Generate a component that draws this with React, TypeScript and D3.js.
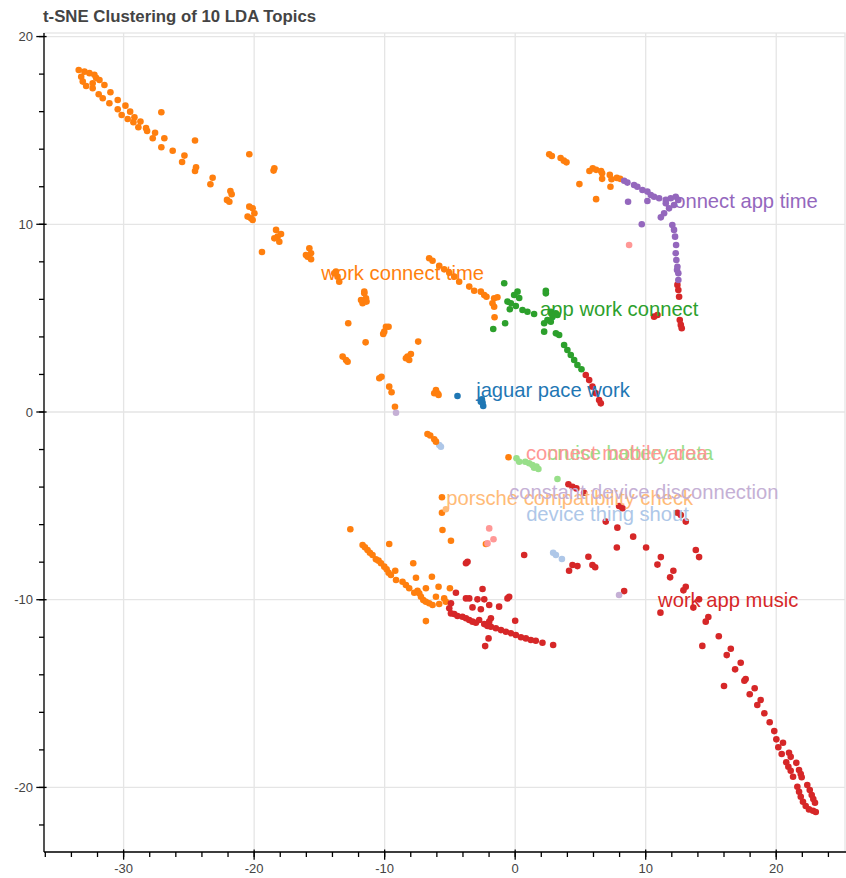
import React from "react";
import * as d3 from "d3";

const W = 846;
const H = 878;

const TITLE = "t-SNE Clustering of 10 LDA Topics";

const topicNames = [
  "jaguar pace work",
  "device thing shout",
  "work connect time",
  "porsche compatibility check",
  "app work connect",
  "cruise battery data",
  "work app music",
  "connect mobile area",
  "connect app time",
  "constant device disconnection",
];

const topicColors = [
  "#1f77b4", "#aec7e8", "#ff7f0e", "#ffbb78", "#2ca02c",
  "#98df8a", "#d62728", "#ff9896", "#9467bd", "#c5b0d5",
];

// label anchor positions (data units)
const labelX = [-2.99, 0.84, -14.85, -5.28, 1.91, 2.45, 10.95, 0.82, 11.41, -0.46];
const labelY = [0.8, -5.81, 7.03, -4.96, 5.11, -2.56, -10.39, -2.56, 10.87, -4.64];

const xTicks = [-30, -20, -10, 0, 10, 20];
const yTicks = [-20, -10, 0, 10, 20];
const xDomain = [-36.1, 25.27];
const yDomain = [-23.44, 20.19];

// topic 0 — blue
const t0: [number, number][] = [
  [-4.42, 0.85], [-2.55, 0.68], [-2.5, 0.5], [-2.45, 0.32], [-2.63, 0.55],
];
// topic 1 — light blue
const t1: [number, number][] = [
  [-5.82, -1.76], [-5.69, -1.85], [2.91, -7.5], [3.12, -7.62], [3.58, -7.83],
];
// topic 2 — orange
const t2: [number, number][] = [
  [-33.44, 18.22], [-33.0, 18.13], [-32.62, 18.05], [-32.24, 17.96], [-32.11, 17.8],
  [-32.37, 17.51], [-33.25, 17.86], [-33.13, 17.6], [-32.87, 17.37], [-32.37, 17.25],
  [-31.85, 17.69], [-31.47, 17.42], [-31.01, 17.03], [-31.91, 16.93], [-31.6, 16.71],
  [-31.09, 16.45], [-30.45, 16.62], [-29.86, 16.32], [-30.45, 16.13], [-30.15, 15.82],
  [-29.5, 16.0], [-29.17, 15.7], [-29.69, 15.61], [-29.25, 15.44], [-28.71, 15.47],
  [-28.87, 15.17], [-28.28, 15.12], [-28.2, 14.97], [-27.59, 14.88], [-27.77, 14.58],
  [-26.88, 14.58], [-27.11, 14.1], [-26.24, 13.92], [-27.11, 15.97], [-25.34, 13.66],
  [-25.52, 13.32], [-24.53, 14.46], [-24.45, 13.04], [-24.53, 12.84], [-23.18, 12.48],
  [-23.35, 12.13], [-21.82, 11.77], [-21.72, 11.6], [-22.08, 11.3], [-21.9, 11.2],
  [-20.37, 13.73], [-18.45, 12.98], [-18.51, 12.86], [-20.37, 10.94], [-20.11, 10.85],
  [-19.98, 10.59], [-20.24, 10.32], [-20.5, 10.41], [-20.11, 10.23], [-19.4, 8.52],
  [-18.32, 9.7], [-18.2, 9.34], [-18.45, 9.25], [-18.07, 9.07], [-17.94, 9.48],
  [-15.77, 8.72], [-15.64, 8.46], [-15.9, 8.27], [-15.64, 8.14], [-16.03, 8.36],
  [-13.73, 7.48], [-13.61, 7.21], [-13.48, 6.94], [-13.86, 7.39],
  [-11.56, 6.32], [-11.43, 6.06], [-11.69, 5.79], [-11.81, 5.97], [-11.39, 5.88], [-11.56, 6.41],
  [-12.79, 4.73], [-11.46, 3.71], [-9.9, 4.54], [-10.03, 4.28], [-10.11, 4.16], [-9.7, 4.54],
  [-7.43, 3.75], [-8.25, 2.95], [-8.12, 2.77], [-8.37, 2.86], [-7.99, 3.09],
  [-13.22, 2.95], [-12.96, 2.77], [-12.84, 2.68], [-10.41, 1.8], [-10.24, 1.88],
  [-9.65, 1.35], [-9.47, 1.05], [-9.21, 0.28],
  [-6.07, 1.17], [-5.95, 1.0], [-6.2, 1.0], [-5.87, 0.91],
  [-6.72, -1.17], [-6.51, -1.25], [-6.2, -1.45], [-6.07, -1.58],
  [-6.59, 8.19], [-6.33, 8.06], [-5.82, 7.79], [-5.44, 7.6], [-5.05, 7.42], [-4.67, 7.21],
  [-4.29, 6.94], [-3.52, 6.68], [-3.14, 6.46], [-2.63, 6.41], [-2.37, 6.23], [-2.2, 6.14],
  [-1.61, 6.06], [-1.36, 6.11], [-1.74, 5.79], [-1.61, 5.61], [-1.58, 5.05],
  [2.61, 13.73], [2.81, 13.64], [3.48, 13.53], [3.73, 13.39], [3.93, 13.3],
  [5.94, 12.98], [5.69, 12.84], [6.2, 12.9], [6.58, 12.84], [6.66, 12.72], [6.66, 12.42],
  [7.25, 12.63], [7.38, 12.4], [7.3, 12.0], [7.79, 12.47], [8.04, 12.42],
  [4.92, 12.14], [6.2, 11.34],
  [-0.51, -2.41],
  [-5.61, -4.54], [-5.61, -5.37], [-5.57, -6.29], [-4.92, -6.86], [-2.24, -7.03],
  [-12.63, -6.25], [-9.65, -7.03],
  [-11.69, -7.09], [-11.51, -7.21], [-11.31, -7.35], [-11.13, -7.5], [-10.93, -7.62],
  [-10.67, -7.85], [-10.47, -7.92], [-10.28, -8.06], [-10.03, -8.24], [-9.85, -8.38],
  [-9.7, -8.56], [-9.52, -8.68], [-9.19, -8.46], [-9.13, -8.95], [-8.63, -9.04],
  [-8.37, -9.22], [-8.12, -9.39], [-7.81, -8.06], [-7.6, -8.83], [-7.48, -9.52],
  [-7.73, -9.63], [-7.35, -9.66], [-7.22, -9.84], [-7.04, -10.02], [-6.84, -10.11],
  [-6.59, -10.19], [-6.33, -10.28], [-6.07, -9.84], [-5.82, -10.23], [-5.44, -9.93],
  [-5.31, -10.11], [-6.38, -8.78], [-5.87, -9.31], [-5.0, -9.39], [-6.84, -11.14], [-6.84, -9.39],
];
// topic 3 — light orange
const t3: [number, number][] = [[-5.31, -5.18]];
// topic 4 — green
const t4: [number, number][] = [
  [-0.84, 6.86], [0.18, 6.41], [-0.08, 6.23], [-0.59, 5.88], [-0.33, 5.79], [-0.41, 5.47],
  [0.05, 5.65], [0.56, 5.43], [0.94, 5.34], [1.45, 5.22], [-1.68, 4.42], [-0.77, 4.73],
  [0.31, 6.07], [2.35, 6.46], [2.35, 6.32], [2.73, 5.34], [3.12, 5.26], [3.24, 5.17],
  [2.86, 5.08], [2.47, 4.9], [2.22, 4.73], [2.73, 4.81], [2.22, 4.28], [3.12, 4.19],
  [3.37, 4.1], [3.75, 3.57], [4.0, 3.3], [4.26, 3.04], [4.52, 2.77], [4.77, 2.5], [5.08, 2.28],
];
// topic 5 — light green
const t5: [number, number][] = [
  [0.1, -2.47], [0.31, -2.65], [0.77, -2.65], [1.07, -2.73], [1.32, -2.82],
  [1.63, -2.91], [1.78, -3.04], [1.45, -2.97], [3.24, -3.57],
];
// topic 6 — red
const t6: [number, number][] = [
  [12.43, 6.77], [12.5, 6.5], [12.56, 6.14], [12.61, 4.9], [12.69, 4.64], [12.76, 4.46],
  [10.64, 5.08], [10.9, 5.17],
  [5.41, 1.97], [5.67, 1.7], [5.92, 1.35], [6.18, 1.0], [6.43, 0.64], [6.56, 0.46],
  [4.08, -3.85], [4.39, -3.98], [4.69, -4.07], [5.28, -4.3], [7.96, -5.01], [8.22, -5.13],
  [12.43, -5.37], [12.69, -5.49], [13.07, -5.84], [6.94, -5.84], [7.83, -6.16], [9.04, -6.64],
  [7.79, -7.22], [10.03, -7.22], [11.16, -7.73], [10.9, -8.13], [13.84, -7.35], [14.09, -7.73],
  [12.12, -8.46], [11.87, -8.81], [13.07, -9.31], [12.89, -9.5], [14.09, -9.98], [13.65, -10.42],
  [11.13, -10.69], [14.8, -10.92], [14.6, -11.17], [15.6, -11.95], [14.34, -12.46],
  [16.52, -12.61], [16.21, -12.95], [17.28, -13.36], [16.85, -13.71], [16.0, -14.6],
  [17.66, -14.23], [17.56, -14.32], [18.35, -14.72], [17.97, -15.04], [18.81, -15.34],
  [18.55, -15.61], [19.09, -16.05], [19.5, -16.53], [19.85, -17.0], [20.01, -17.44],
  [20.52, -17.62], [20.16, -17.86], [20.42, -18.22], [20.98, -18.15], [21.11, -18.37],
  [20.77, -18.66], [20.93, -18.9], [21.11, -19.11], [21.54, -18.69], [21.75, -19.07],
  [21.88, -19.29], [21.95, -19.46], [21.29, -19.43], [21.62, -19.96], [21.75, -20.23],
  [21.88, -20.5], [22.05, -20.76], [22.26, -20.99], [22.51, -21.17], [22.82, -21.24],
  [23.03, -21.31], [22.38, -19.87], [22.57, -20.14], [22.72, -20.41], [22.84, -20.62], [22.97, -20.82],
  [0.69, -7.62], [4.39, -8.15], [4.77, -8.21], [4.13, -8.46], [5.61, -7.71], [5.92, -8.15],
  [6.13, -8.27], [8.35, -9.54], [-3.77, -8.06], [-3.65, -7.98],
  [-4.54, -9.63], [-4.92, -10.19], [-5.05, -10.46], [-4.92, -10.73], [-4.67, -10.76],
  [-4.42, -10.87], [-4.04, -10.91], [-3.77, -10.99], [-3.52, -11.08], [-3.27, -11.17],
  [-3.01, -11.23], [-2.76, -11.08], [-2.37, -11.3], [-2.12, -11.4], [-1.86, -11.44],
  [-1.48, -11.52], [-1.09, -11.62], [-0.71, -11.71], [-0.33, -11.79], [0.05, -11.88],
  [0.44, -12.0], [0.82, -12.06], [1.2, -12.15], [1.58, -12.19], [2.09, -12.29], [2.91, -12.41],
  [-3.77, -9.93], [-3.52, -9.93], [-2.89, -9.98], [-2.37, -9.98], [-3.27, -10.41],
  [-2.63, -10.51], [-1.99, -10.28], [-1.23, -10.37], [-0.59, -9.93], [-0.46, -9.84],
  [-1.86, -10.99], [-1.99, -11.17], [0.0, -11.12], [-2.04, -12.06], [-2.3, -12.47], [-2.5, -9.43],
];
// topic 7 — light red
const t7: [number, number][] = [
  [8.73, 8.9], [-1.99, -6.2], [-1.66, -6.78], [-2.12, -7.0],
];
// topic 8 — purple
const t8: [number, number][] = [
  [8.35, 12.32], [8.6, 12.22], [9.11, 12.09], [9.36, 12.0], [9.75, 11.83], [10.13, 11.74],
  [10.39, 11.56], [10.64, 11.47], [11.03, 11.39], [11.54, 11.3], [11.92, 11.39], [12.3, 11.47],
  [12.5, 11.3], [12.17, 11.03], [11.79, 10.85], [11.41, 10.59], [11.16, 10.37], [11.54, 11.12],
  [8.65, 11.2], [10.13, 11.24], [9.7, 10.0], [12.04, 9.96], [12.17, 9.7], [12.25, 9.34],
  [12.33, 8.9], [12.3, 8.46], [12.35, 8.1], [12.4, 7.56], [12.43, 7.74], [12.5, 7.39], [12.5, 7.03],
];
// topic 9 — light purple
const t9: [number, number][] = [[-9.13, -0.04], [7.96, -9.75]];

const topics = [t0, t1, t2, t3, t4, t5, t6, t7, t8, t9];

const FRAME = { left: 44, right: 845, top: 33, bottom: 852 };
const FONT = "'Liberation Sans', Arial, Helvetica, sans-serif";

export default function App() {
  const x = d3.scaleLinear().domain(xDomain).range([FRAME.left, FRAME.right]);
  const y = d3.scaleLinear().domain(yDomain).range([FRAME.bottom, FRAME.top]);

  const xMinor = d3.range(-36, 26, 2).filter((v) => x(v) >= FRAME.left - 0.5 && x(v) <= FRAME.right);
  const yMinor = d3.range(-22, 21, 2).filter((v) => y(v) <= FRAME.bottom + 0.5 && y(v) >= FRAME.top);

  const axisColor = "#000";
  const lw = 1.3;

  return (
    <svg
      width={W}
      height={H}
      style={{ position: "absolute", left: 0, top: 0, background: "#fff" }}
      fontFamily={FONT}
    >
      <rect x={0} y={0} width={W} height={H} fill="#fff" />
      {/* outline */}
      <rect
        x={FRAME.left}
        y={FRAME.top}
        width={FRAME.right - FRAME.left}
        height={FRAME.bottom - FRAME.top}
        fill="none"
        stroke="#e5e5e5"
        strokeWidth={lw}
      />
      {/* grid */}
      {xTicks.map((t) => (
        <line key={"gx" + t} x1={x(t)} x2={x(t)} y1={FRAME.top} y2={FRAME.bottom} stroke="#e5e5e5" strokeWidth={lw} />
      ))}
      {yTicks.map((t) => (
        <line key={"gy" + t} x1={FRAME.left} x2={FRAME.right} y1={y(t)} y2={y(t)} stroke="#e5e5e5" strokeWidth={lw} />
      ))}

      {/* points */}
      {topics.map((pts, ti) =>
        pts.map((p, i) => (
          <circle key={ti + "-" + i} cx={x(p[0])} cy={y(p[1])} r={3.3} fill={topicColors[ti]} />
        ))
      )}

      {/* labels */}
      {topicNames.map((name, i) => (
        <text
          key={"lab" + i}
          x={x(labelX[i])}
          y={y(labelY[i])}
          fill={topicColors[i]}
          fontSize={20.2}
        >
          {name}
        </text>
      ))}

      {/* left axis */}
      <line x1={FRAME.left} x2={FRAME.left} y1={FRAME.top} y2={FRAME.bottom} stroke={axisColor} strokeWidth={lw} />
      {yMinor.map((t) => (
        <line key={"ym" + t} x1={FRAME.left - 5} x2={FRAME.left} y1={y(t)} y2={y(t)} stroke={axisColor} strokeWidth={lw} />
      ))}
      {yTicks.map((t) => (
        <g key={"yt" + t}>
          <line x1={FRAME.left - 7.7} x2={FRAME.left + 2.6} y1={y(t)} y2={y(t)} stroke={axisColor} strokeWidth={lw} />
          <text x={FRAME.left - 11} y={y(t)} dy="0.35em" textAnchor="end" fontSize={13} fill="#444">
            {t}
          </text>
        </g>
      ))}

      {/* bottom axis */}
      <line x1={FRAME.left} x2={FRAME.right + 1} y1={FRAME.bottom} y2={FRAME.bottom} stroke={axisColor} strokeWidth={lw} />
      {xMinor.map((t) => (
        <line key={"xm" + t} x1={x(t)} x2={x(t)} y1={FRAME.bottom} y2={FRAME.bottom + 5} stroke={axisColor} strokeWidth={lw} />
      ))}
      {xTicks.map((t) => (
        <g key={"xt" + t}>
          <line x1={x(t)} x2={x(t)} y1={FRAME.bottom - 2.6} y2={FRAME.bottom + 7.7} stroke={axisColor} strokeWidth={lw} />
          <text x={x(t)} y={FRAME.bottom + 21} textAnchor="middle" fontSize={13} fill="#444">
            {t}
          </text>
        </g>
      ))}

      {/* title */}
      <text x={FRAME.left - 1} y={22} fontSize={16.8} fontWeight="bold" fill="#444">
        {TITLE}
      </text>
    </svg>
  );
}
